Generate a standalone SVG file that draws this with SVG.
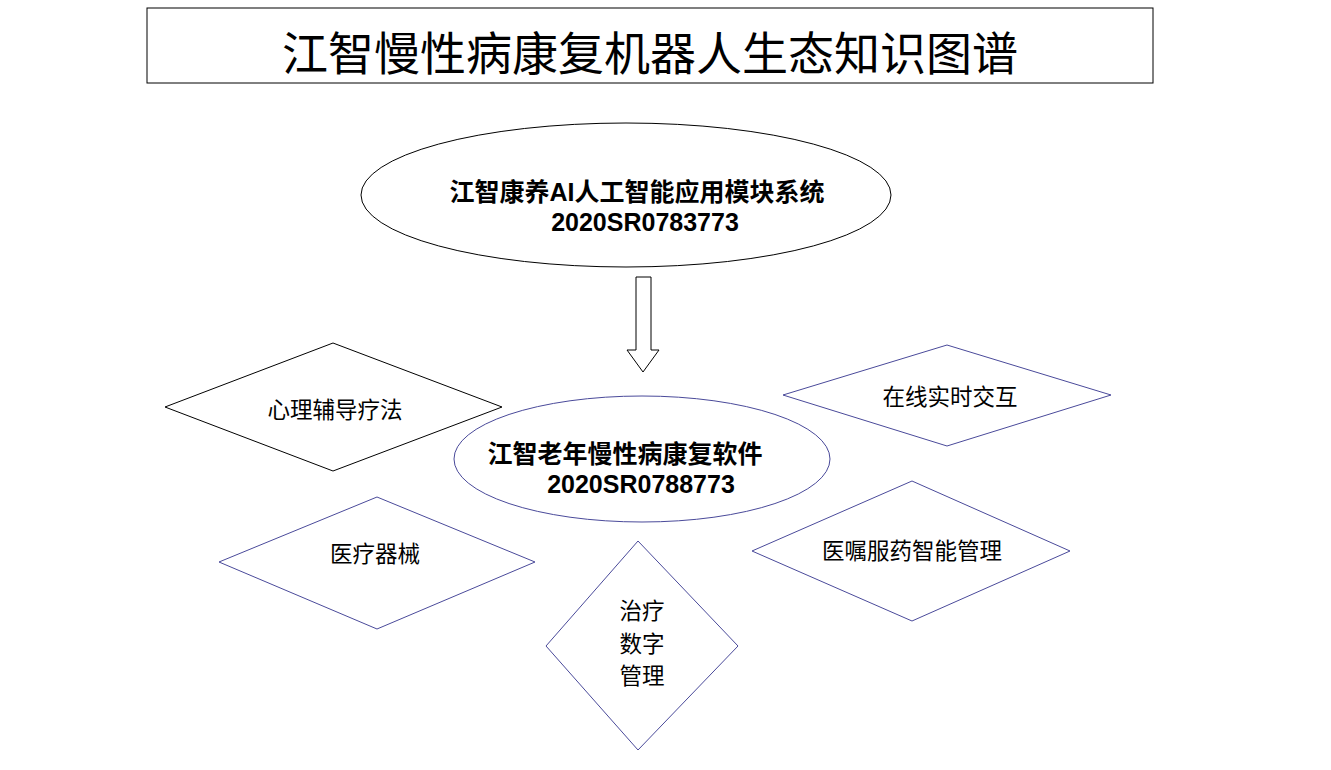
<svg xmlns="http://www.w3.org/2000/svg" width="1331" height="770" viewBox="0 0 1331 770">
<style>
text{font-family:"Liberation Sans","Noto Sans CJK SC",sans-serif;fill:#000;text-anchor:middle}
.b{font-weight:bold;font-size:25px}
.d{font-size:22.5px}
.k{fill:#fff;stroke:#000;stroke-width:1}
.u{fill:#fff;stroke:#4a4a9a;stroke-width:1}
</style>
<rect width="1331" height="770" fill="#fff"/>
<g id="title"><rect x="147" y="8" width="1006" height="75" fill="#fff" stroke="#000"/><text x="650" y="70" font-size="46">江智慢性病康复机器人生态知识图谱</text></g>
<g id="connectors"><path class="k" d="M636,277 H651 V350 H659 L643,372 L627,350 H636 Z"/></g>
<g id="top"><ellipse class="k" cx="626" cy="195" rx="265" ry="72"/><text class="b" x="637" y="201">江智康养AI人工智能应用模块系统</text><text class="b" x="645" y="231">2020SR0783773</text></g>
<g id="mid"><ellipse class="u" cx="642" cy="459" rx="188" ry="63"/><text class="b" x="625" y="463">江智老年慢性病康复软件</text><text class="b" x="641" y="493">2020SR0788773</text></g>
<g id="n1"><polygon class="k" points="165,407 333,343 502,407 333,471"/><text class="d" x="335" y="418">心理辅导疗法</text></g>
<g id="n2"><polygon class="u" points="783,395 947,345 1111,395 947,446"/><text class="d" x="950" y="405">在线实时交互</text></g>
<g id="n3"><polygon class="u" points="219,562 377,497 535,562 377,629"/><text class="d" x="375" y="562">医疗器械</text></g>
<g id="n4"><polygon class="u" points="752,551 912,481 1070,551 912,621"/><text class="d" x="912" y="559">医嘱服药智能管理</text></g>
<g id="n5"><polygon class="u" points="546,646 638,541 738,646 638,750"/><text class="d" x="642" y="619">治疗</text><text class="d" x="642" y="652">数字</text><text class="d" x="642" y="684">管理</text></g>
</svg>
